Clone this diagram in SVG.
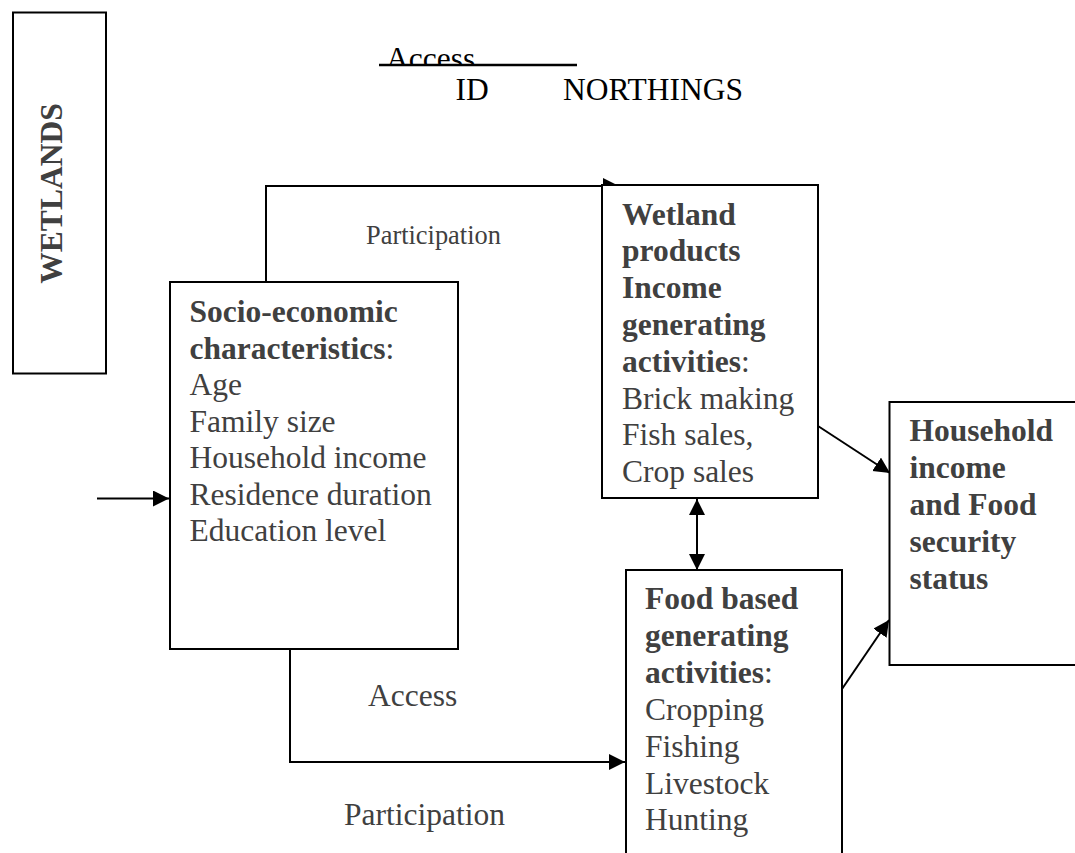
<svg xmlns="http://www.w3.org/2000/svg" width="1075" height="853" viewBox="0 0 1075 853">
<style>
.box{fill:#fff;stroke:#000;stroke-width:2}
.t{font-family:"Liberation Serif","Times New Roman",serif;font-size:31.5px;fill:#404040}
.b{font-weight:bold}
.k{fill:#000}
.c{fill:none;stroke:#000;stroke-width:2}
</style>
<defs>
<marker id="ah" markerUnits="userSpaceOnUse" markerWidth="18" markerHeight="18" refX="16" refY="8" orient="auto-start-reverse">
<path d="M0,0 L16,8 L0,16 z" fill="#000"/>
</marker>
<clipPath id="clipAccess"><rect x="370" y="30" width="220" height="35"/></clipPath>
</defs>
<rect width="1075" height="853" fill="#fff"/>

<g id="header">
<text class="t k" x="386" y="69" clip-path="url(#clipAccess)">Access</text>
<line x1="379" y1="65" x2="577" y2="65" stroke="#000" stroke-width="2.5"/>
<text class="t k" x="455.5" y="99.5">ID</text>
<text class="t k" x="563" y="99.5">NORTHINGS</text>
</g>

<g id="wetlands">
<rect class="box" x="13" y="12.5" width="93" height="361"/>
<text class="t b" text-anchor="middle" transform="translate(61.5,193.5) rotate(-90)">WETLANDS</text>
</g>

<g id="connectors">
<path class="c" d="M266,282 V186 H619" marker-end="url(#ah)"/>
<line class="c" x1="97" y1="498.5" x2="169" y2="498.5" marker-end="url(#ah)"/>
<path class="c" d="M290,649 V762 H625" marker-end="url(#ah)"/>
<line class="c" x1="697" y1="499" x2="697" y2="570" marker-start="url(#ah)" marker-end="url(#ah)"/>
<line class="c" x1="818" y1="426" x2="890" y2="473" marker-end="url(#ah)"/>
<line class="c" x1="842" y1="689" x2="889" y2="620" marker-end="url(#ah)"/>
</g>

<g id="labels">
<text class="t" x="366" y="244" style="font-size:26.4px">Participation</text>
<text class="t" x="368" y="706">Access</text>
<text class="t" x="344" y="825">Participation</text>
</g>

<g id="socio">
<rect class="box" x="170" y="282" width="288" height="367"/>
<text class="t" x="189.5">
<tspan x="189.5" y="322" class="b">Socio-economic</tspan>
<tspan x="189.5" y="358.5"><tspan class="b">characteristics</tspan>:</tspan>
<tspan x="189.5" y="395">Age</tspan>
<tspan x="189.5" y="431.5">Family size</tspan>
<tspan x="189.5" y="468">Household income</tspan>
<tspan x="189.5" y="504.5">Residence duration</tspan>
<tspan x="189.5" y="541">Education level</tspan>
</text>
</g>

<g id="wetland-products">
<rect class="box" x="602" y="185" width="216" height="313"/>
<text class="t">
<tspan x="622" y="224.5" class="b">Wetland</tspan>
<tspan x="622" y="261" class="b">products</tspan>
<tspan x="622" y="298" class="b">Income</tspan>
<tspan x="622" y="335" class="b">generating</tspan>
<tspan x="622" y="371.5"><tspan class="b">activities</tspan>:</tspan>
<tspan x="622" y="408.5">Brick making</tspan>
<tspan x="622" y="445">Fish sales,</tspan>
<tspan x="622" y="482">Crop sales</tspan>
</text>
</g>

<g id="household">
<rect class="box" x="889.5" y="402" width="200" height="263"/>
<text class="t b">
<tspan x="909.5" y="441">Household</tspan>
<tspan x="909.5" y="478">income</tspan>
<tspan x="909.5" y="514.5">and Food</tspan>
<tspan x="909.5" y="551.5">security</tspan>
<tspan x="909.5" y="588.5">status</tspan>
</text>
</g>

<g id="food">
<rect class="box" x="626" y="570" width="216" height="300"/>
<text class="t">
<tspan x="645" y="609" class="b">Food based</tspan>
<tspan x="645" y="646" class="b">generating</tspan>
<tspan x="645" y="683"><tspan class="b">activities</tspan>:</tspan>
<tspan x="645" y="720">Cropping</tspan>
<tspan x="645" y="756.5">Fishing</tspan>
<tspan x="645" y="793.5">Livestock</tspan>
<tspan x="645" y="830">Hunting</tspan>
</text>
</g>
</svg>
